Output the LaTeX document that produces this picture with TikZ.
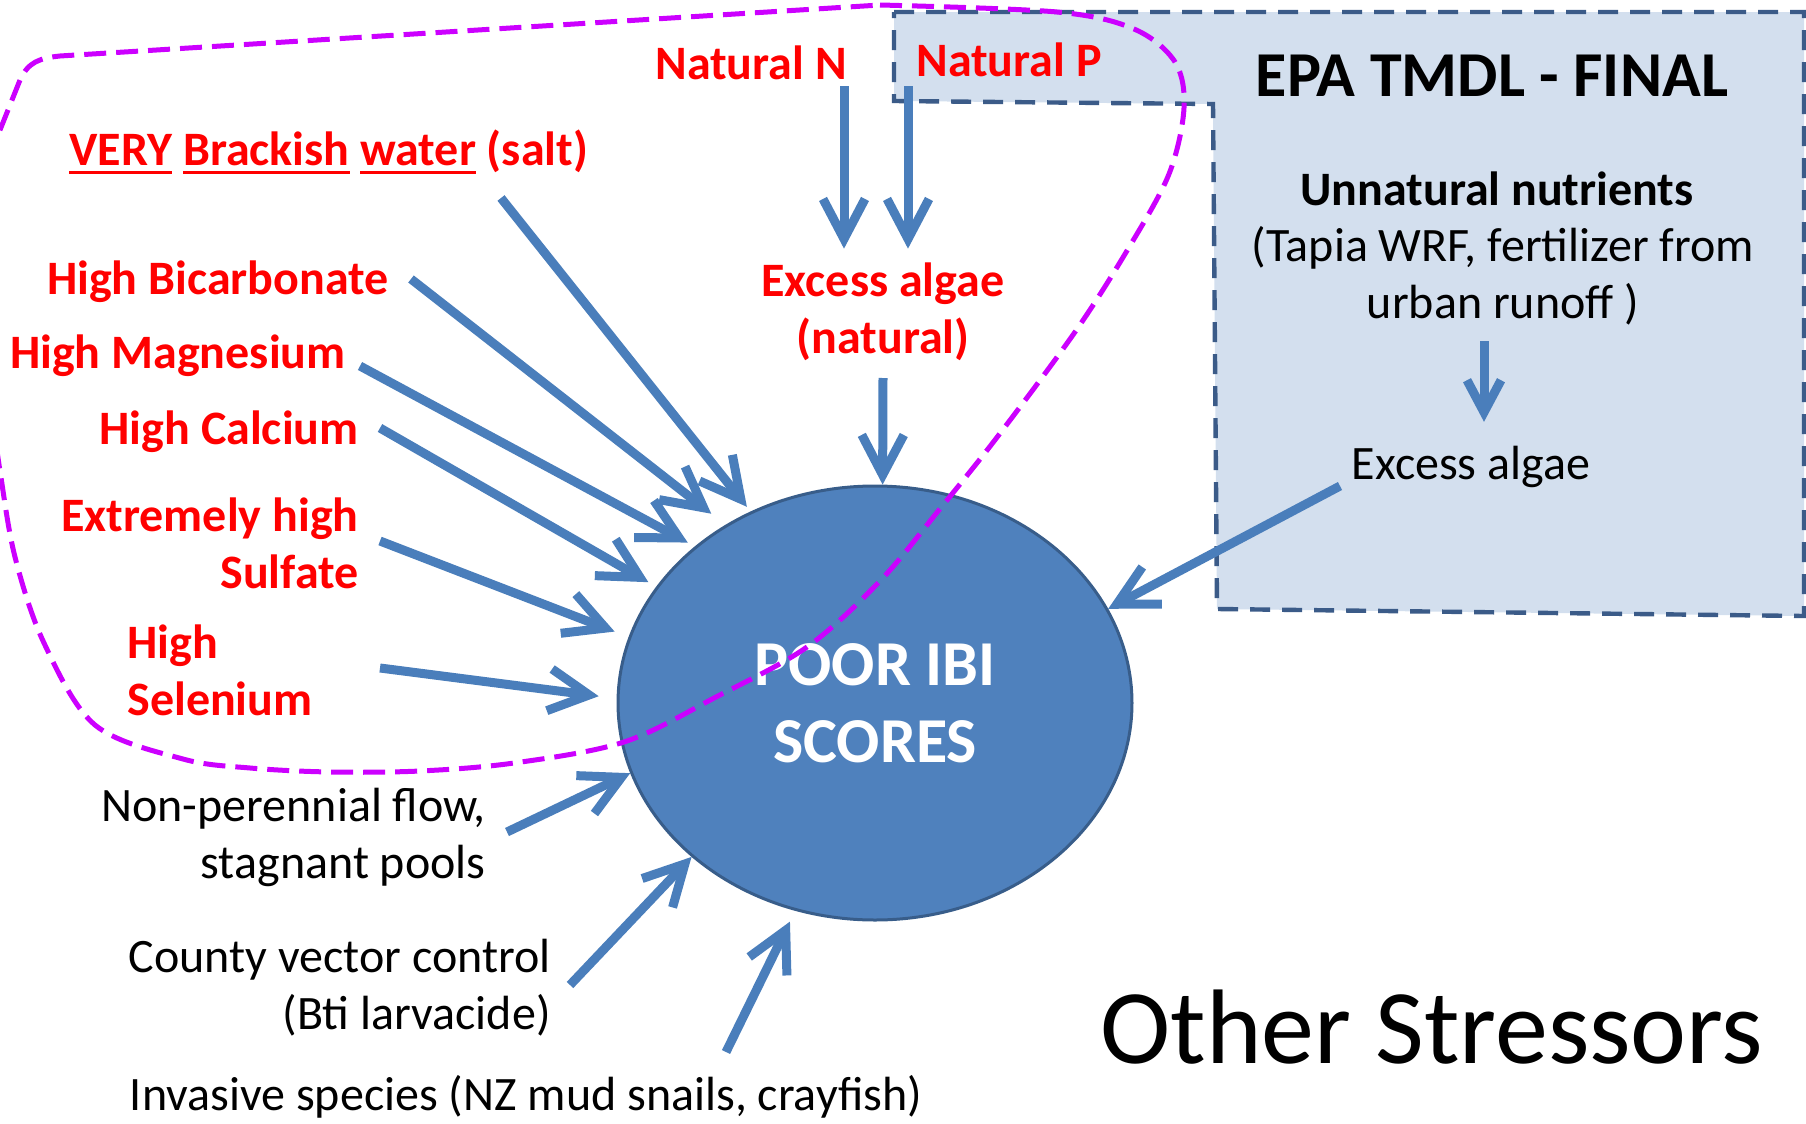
\documentclass[tikz,border=0pt]{standalone}
\usepackage{fontspec}
\setmainfont{Carlito}
\usepackage{tikz}
\usetikzlibrary{arrows.meta,shapes.geometric}
\definecolor{StressRed}{RGB}{255,0,0}
\definecolor{ArrowBlue}{RGB}{74,126,187}
\definecolor{IbiFill}{RGB}{79,129,189}
\definecolor{IbiLine}{RGB}{56,93,138}
\definecolor{EpaFill}{RGB}{211,223,238}
\definecolor{EpaLine}{RGB}{59,91,136}
\definecolor{LassoPurple}{RGB}{204,0,255}
\newcommand\ulword[1]{\setbox0\hbox{#1}\rlap{\rule[-4pt]{\wd0}{1.6pt}}\box0\relax}

\begin{document}
\begin{tikzpicture}[x=0.5pt,y=-0.5pt,
  redlbl/.style={font=\fontsize{24}{28.5}\selectfont\bfseries,text=StressRed,inner sep=0pt},
  blklbl/.style={font=\fontsize{24}{28.5}\selectfont,inner sep=0pt},
  arr/.style={draw=ArrowBlue,line width=4.5pt,-{Straight Barb[length=20pt,width=21pt]}},
  epabox/.style={draw=EpaLine,fill=EpaFill,line width=2.2pt,dash pattern=on 10pt off 6pt},
  lasso/.style={draw=LassoPurple,line width=2.5pt,dash pattern=on 11pt off 5pt}]
\useasboundingbox (0,0) rectangle (1806,1124);
\clip (0,0) rectangle (1806,1124);
% EPA box
\draw[epabox] (894,12) -- (1804,12) -- (1804,616) -- (1217,609) -- (1213,104) -- (894,101) -- cycle;
\node[ellipse,fill=IbiFill,draw=IbiLine,line width=1.5pt,minimum width=257pt,minimum height=217pt,
   inner sep=0pt,text=white,align=center,font=\fontsize{32}{38.5}\selectfont\bfseries] (ibi) at (875,703) {POOR IBI\\SCORES};
% labels
\node[redlbl,anchor=east] (natN) at (847,63) {Natural N};
\node[redlbl,anchor=west] (natP) at (916,60) {Natural P};
\node[redlbl,anchor=west] (brack) at (69,152) {\ulword{VERY} \ulword{Brackish} \ulword{water} (salt)};
\node[redlbl,anchor=east] (bicarb) at (389,282) {High Bicarbonate};
\node[redlbl,anchor=east] (magn) at (346,356) {High Magnesium};
\node[redlbl,anchor=east] (calc) at (359,432) {High Calcium};
\node[redlbl,anchor=east,align=right] (sulf) at (359,543) {Extremely high\\Sulfate};
\node[redlbl,anchor=west,align=left] (selen) at (127,670) {High\\Selenium};
\node[redlbl,align=center] (exnat) at (883,312) {Excess algae\\(natural)};
\node[font=\fontsize{32}{38}\selectfont\bfseries,inner sep=0pt] (epa) at (1492,76) {EPA TMDL - FINAL};
\node[blklbl,font=\fontsize{24}{28.5}\selectfont\bfseries] (unnat) at (1497,189) {Unnatural nutrients};
\node[blklbl,align=center] (tapia) at (1503,276) {(Tapia WRF, fertilizer from\\urban runoff )};
\node[blklbl] (exalg) at (1471,467) {Excess algae};
\node[blklbl,anchor=east,align=right] (nonper) at (486,837) {Non-perennial flow,\\stagnant pools};
\node[blklbl,anchor=east,align=right] (county) at (551,988) {County vector control\\(Bti larvacide)};
\node[blklbl] (invas) at (526,1097) {Invasive species (NZ mud snails, crayfish)};
\node[font=\fontsize{53}{60}\selectfont,inner sep=0pt,anchor=west] (other) at (1100,1027) {Other Stressors};
% arrow tails
\coordinate (sBrk) at (501,198);
\coordinate (sBic) at (411,279);
\coordinate (sMag) at (360,366);
\coordinate (sCal) at (380,428);
\coordinate (sSul) at (380,541);
\coordinate (sSel) at (380,668);
\coordinate (sNon) at (507,832);
\coordinate (sCou) at (570,985);
\coordinate (sInv) at (726,1052);
\coordinate (sN) at (844,86);
\coordinate (sP) at (908,86);
\coordinate (sExn) at (883,378);
\coordinate (sUnn) at (1484,341);
\coordinate (sExa) at (1340,486);
\foreach \src/\ang/\gap in {sBrk/123/3,sBic/130/9,sMag/139/4,sCal/152/4.5,sSul/165/7.5,sSel/179/9,sNon/196/0,sCou/220/0,sInv/249/6} {
   \draw[arr,shorten >=\gap pt] (\src) -- (ibi.\ang);
}
\draw[arr,shorten >=7pt] (sN) -- (sN |- exnat.north);
\draw[arr,shorten >=7pt] (sP) -- (sP |- exnat.north);
\draw[arr] (sExn) -- (ibi.88);
\draw[arr,-{Straight Barb[length=16pt,width=17pt]},shorten >=12pt] (sUnn) -- (sUnn |- exalg.north);
\draw[arr] (sExa) -- (ibi.22);
% natural stressors outline
\draw[lasso] (-12,160) -- (20,80) .. controls (28,62) and (40,58) .. (60,56) -- (880,5)
   plot[smooth,tension=0.55] coordinates {(880,5) (1057,12) (1134,29) (1175,62) (1184,108) (1169,174)
   (1128,249) (1075,332) (998,436) (939,510) (880,581) (807,647) (716,697) (624,742) (514,763)
   (420,771) (330,772) (250,768) (183,759) (95,725) (44,643) (15,557) (0,471) (-10,400)};
\end{tikzpicture}
\end{document}
